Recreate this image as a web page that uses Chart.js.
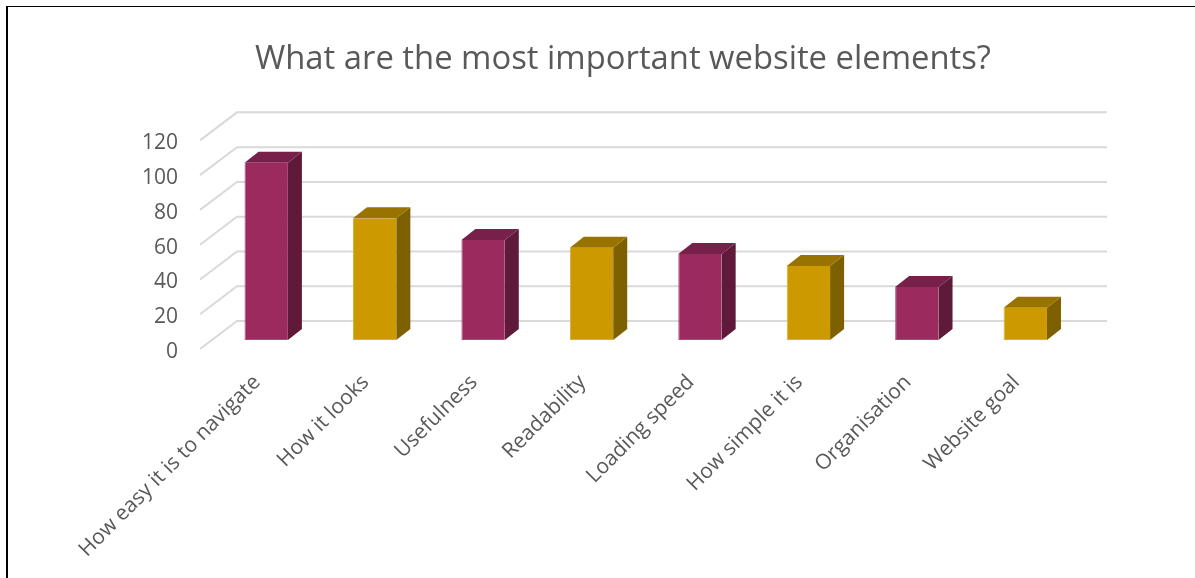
<!DOCTYPE html>
<html>
<head>
<meta charset="utf-8">
<title>Website elements</title>
<script src="https://cdn.jsdelivr.net/npm/chart.js@4"></script>
<style>
    html, body { margin: 0; padding: 0; background: #fff; overflow: hidden; }
    #frame {
        position: absolute; left: 6px; top: 6px; right: 0; bottom: 0;
        border-left: 2px solid #000; border-top: 1px solid #000;
    }
    canvas { display: block; }
</style>
</head>
<body>
<div id="frame"><canvas id="myChart" width="1187" height="571"></canvas></div>
<script>
const chartTitle = 'What are the most important website elements?';
const categories = ['How easy it is to navigate', 'How it looks', 'Usefulness', 'Readability',
    'Loading speed', 'How simple it is', 'Organisation', 'Website goal'];
const responses = [102, 70, 57.5, 53, 49.5, 42.5, 30.5, 18.5];
const yTicks = [0, 20, 40, 60, 80, 100, 120];

// front, edge, side and top faces of the two bar colours
const maroon = { front: '#9b2a5e', edge: '#ad4a78', side: '#5f1a3a', top: '#76204a' };
const gold = { front: '#cc9900', edge: '#d9b030', side: '#7f6000', top: '#997300' };
const faces = i => (i % 2 === 0 ? maroon : gold);

const textColor = '#595959';
const gridColor = '#d9d9d9';
const fontFamily = '"Open Sans", "Noto Sans", sans-serif';

// depth of the bars, and where the floor lines sit around them
const barDepth = { x: 14, y: -11 };
const wall = { frontX: -12, frontY: 9, backX: 25, backY: -19, backRight: 27.5 };

const wallGrid = {
    id: 'wallGrid',
    beforeDatasetsDraw(chart) {
        const { ctx, chartArea, scales } = chart;
        ctx.save();
        ctx.strokeStyle = gridColor;
        ctx.lineWidth = 2;
        yTicks.forEach(tick => {
            const y = scales.y.getPixelForValue(tick);
            ctx.beginPath();
            ctx.moveTo(chartArea.left + wall.frontX, y + wall.frontY);
            ctx.lineTo(chartArea.left + wall.backX, y + wall.backY);
            ctx.lineTo(chartArea.right + wall.backRight, y + wall.backY);
            ctx.stroke();
        });
        ctx.restore();
    }
};

const barFaces = {
    id: 'barFaces',
    afterDatasetsDraw(chart) {
        const { ctx } = chart;
        const face = (color, points) => {
            ctx.fillStyle = color;
            ctx.beginPath();
            points.forEach((p, n) => (n ? ctx.lineTo(p[0], p[1]) : ctx.moveTo(p[0], p[1])));
            ctx.closePath();
            ctx.fill();
        };
        chart.getDatasetMeta(0).data.forEach((bar, i) => {
            const left = bar.x - bar.width / 2;
            const right = bar.x + bar.width / 2;
            const dx = barDepth.x;
            const dy = barDepth.y;
            face(faces(i).side, [[right, bar.y], [right + dx, bar.y + dy], [right + dx, bar.base + dy], [right, bar.base]]);
            face(faces(i).top, [[left, bar.y], [left + dx, bar.y + dy], [right + dx, bar.y + dy], [right, bar.y]]);
        });
    }
};

new Chart(document.getElementById('myChart'), {
    type: 'bar',
    data: {
        labels: categories,
        datasets: [{
            data: responses,
            backgroundColor: ctx => faces(ctx.dataIndex).front,
            borderColor: ctx => faces(ctx.dataIndex).edge,
            borderWidth: { left: 1, bottom: 1 },
            borderSkipped: false,
            barPercentage: 0.4,
            categoryPercentage: 1
        }]
    },
    options: {
        responsive: false,
        animation: false,
        layout: { padding: { left: 43 } },
        plugins: {
            legend: { display: false },
            tooltip: { enabled: false },
            title: {
                display: true,
                text: chartTitle,
                color: textColor,
                font: { family: fontFamily, size: 32.8, weight: 'normal' },
                padding: { top: 33, bottom: 52 }
            }
        },
        scales: {
            x: {
                grid: { display: false, drawTicks: false },
                border: { display: false },
                afterFit: scale => { scale.height = 238; },
                ticks: {
                    autoSkip: false,
                    minRotation: 45,
                    maxRotation: 45,
                    padding: 30,
                    labelOffset: -9,
                    color: textColor,
                    font: { family: fontFamily, size: 21 }
                }
            },
            y: {
                min: 0,
                max: 120,
                afterFit: scale => { scale.width = 161; },
                afterBuildTicks: scale => { scale.ticks = yTicks.map(value => ({ value })); },
                grid: { display: false, drawTicks: false },
                border: { display: false },
                ticks: {
                    padding: 34,
                    labelOffset: 12,
                    color: textColor,
                    font: { family: fontFamily, size: 21 }
                }
            },
            // empty axis that keeps the plot clear of the right edge
            rightGap: {
                position: 'right',
                min: 0,
                max: 120,
                afterFit: scale => { scale.width = 115.5; },
                grid: { display: false, drawTicks: false },
                border: { display: false },
                ticks: { display: false }
            }
        }
    },
    plugins: [wallGrid, barFaces]
});
</script>
</body>
</html>
